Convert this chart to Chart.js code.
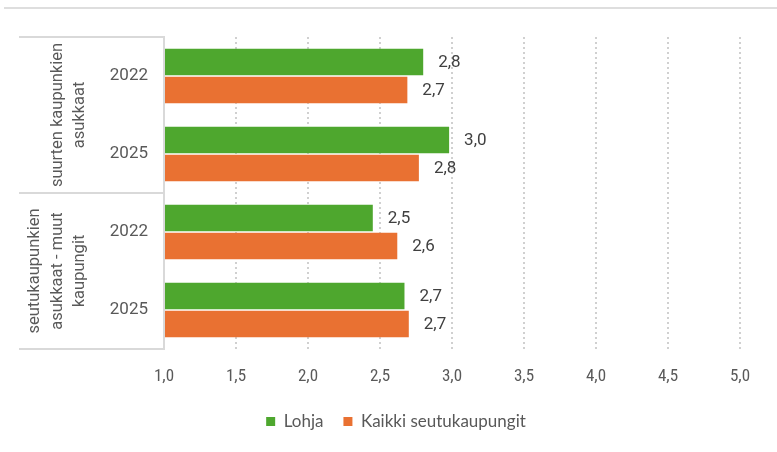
<!DOCTYPE html>
<html>
<head>
<meta charset="utf-8">
<script src="https://cdn.jsdelivr.net/npm/chart.js@4"></script>
<style>
html,body{margin:0;padding:0;background:#fff;}
#wrap{position:relative;width:777px;height:452px;}
</style>
</head>
<body>
<div id="wrap"><canvas id="c" width="777" height="452"></canvas></div>
<script>
const yearLabels = ['2022', '2025', '2022', '2025'];
const groupLabels = [['suurten kaupunkien', 'asukkaat'], ['seutukaupunkien', 'asukkaat - muut', 'kaupungit']];
const seriesNames = ['Lohja', 'Kaikki seutukaupungit'];
const lohja = [2.80, 2.98, 2.45, 2.67];
const kaikki = [2.69, 2.77, 2.62, 2.70];
const xTicks = [1.0, 1.5, 2.0, 2.5, 3.0, 3.5, 4.0, 4.5, 5.0];

const GREEN = '#4ea72e', ORANGE = '#e97132';
const fmt = v => v.toFixed(1).replace('.', ',');

const decor = {
  id: 'decor',
  beforeDraw(chart) {
    const ctx = chart.ctx;
    ctx.save();
    ctx.strokeStyle = '#dedede';
    ctx.lineWidth = 2;
    ctx.beginPath(); ctx.moveTo(4, 8); ctx.lineTo(777, 8); ctx.stroke();
    ctx.restore();
  },
  afterDraw(chart) {
    const ctx = chart.ctx, ca = chart.chartArea, ys = chart.scales.y;
    ctx.save();
    ctx.strokeStyle = '#d9d9d9';
    ctx.lineWidth = 2;
    const mid = (ys.getPixelForValue(1) + ys.getPixelForValue(2)) / 2;
    [ca.top, mid, ca.bottom].forEach(y => {
      ctx.beginPath(); ctx.moveTo(19, y); ctx.lineTo(ca.left, y); ctx.stroke();
    });
    ctx.fillStyle = '#595959';
    ctx.font = '16.5px Roboto';
    ctx.textAlign = 'center';
    ctx.textBaseline = 'middle';
    const spans = [[ca.top, mid], [mid, ca.bottom]];
    groupLabels.forEach((lines, g) => {
      const cy = (spans[g][0] + spans[g][1]) / 2;
      const n = lines.length;
      lines.forEach((t, i) => {
        const x = 80 - (n - 1 - i) * 22.5;
        ctx.save();
        ctx.translate(x, cy);
        ctx.rotate(-Math.PI / 2);
        ctx.fillText(t, 0, 0);
        ctx.restore();
      });
    });
    ctx.fillStyle = '#404040';
    ctx.font = '17px Roboto';
    ctx.textAlign = 'left';
    ctx.textBaseline = 'middle';
    chart.data.datasets.forEach((ds, di) => {
      const meta = chart.getDatasetMeta(di);
      meta.data.forEach((bar, i) => {
        ctx.fillText(fmt(ds.data[i]), bar.x + 15, bar.y + 1);
      });
    });
    ctx.restore();
  }
};

new Chart(document.getElementById('c'), {
  type: 'bar',
  data: {
    labels: yearLabels,
    datasets: [
      { label: seriesNames[0], data: lohja, backgroundColor: GREEN, base: 1 },
      { label: seriesNames[1], data: kaikki, backgroundColor: ORANGE, base: 1 }
    ]
  },
  options: {
    indexAxis: 'y',
    responsive: false,
    animation: false,
    devicePixelRatio: 1,
    categoryPercentage: 0.72,
    barPercentage: 0.94,
    layout: { padding: { left: 52, right: 37, top: 37, bottom: 12 } },
    plugins: {
      tooltip: { enabled: false },
      legend: {
        position: 'bottom',
        labels: {
          boxWidth: 9, boxHeight: 9, padding: 20,
          color: '#595959',
          font: { family: 'Lato', size: 17 }
        }
      }
    },
    scales: {
      x: {
        min: 1, max: 5,
        afterBuildTicks(scale) { scale.ticks = xTicks.map(v => ({ value: v })); },
        afterFit(scale) { scale.height = 44; },
        ticks: {
          padding: 18,
          color: '#595959',
          font: { family: "'Liberation Sans Narrow', 'Roboto Condensed', Roboto", size: 17 },
          callback: v => fmt(v)
        },
        grid: { color: '#d0d0d0', lineWidth: 2, drawTicks: false },
        border: { display: false, dash: [2, 3] }
      },
      y: {
        afterFit(scale) { scale.width = 112; },
        ticks: {
          padding: 16,
          color: '#595959',
          font: { family: 'Roboto', size: 17 }
        },
        grid: { display: false, drawTicks: false },
        border: { display: true, color: '#d9d9d9', width: 2 }
      }
    }
  },
  plugins: [decor]
});
</script>
</body>
</html>
